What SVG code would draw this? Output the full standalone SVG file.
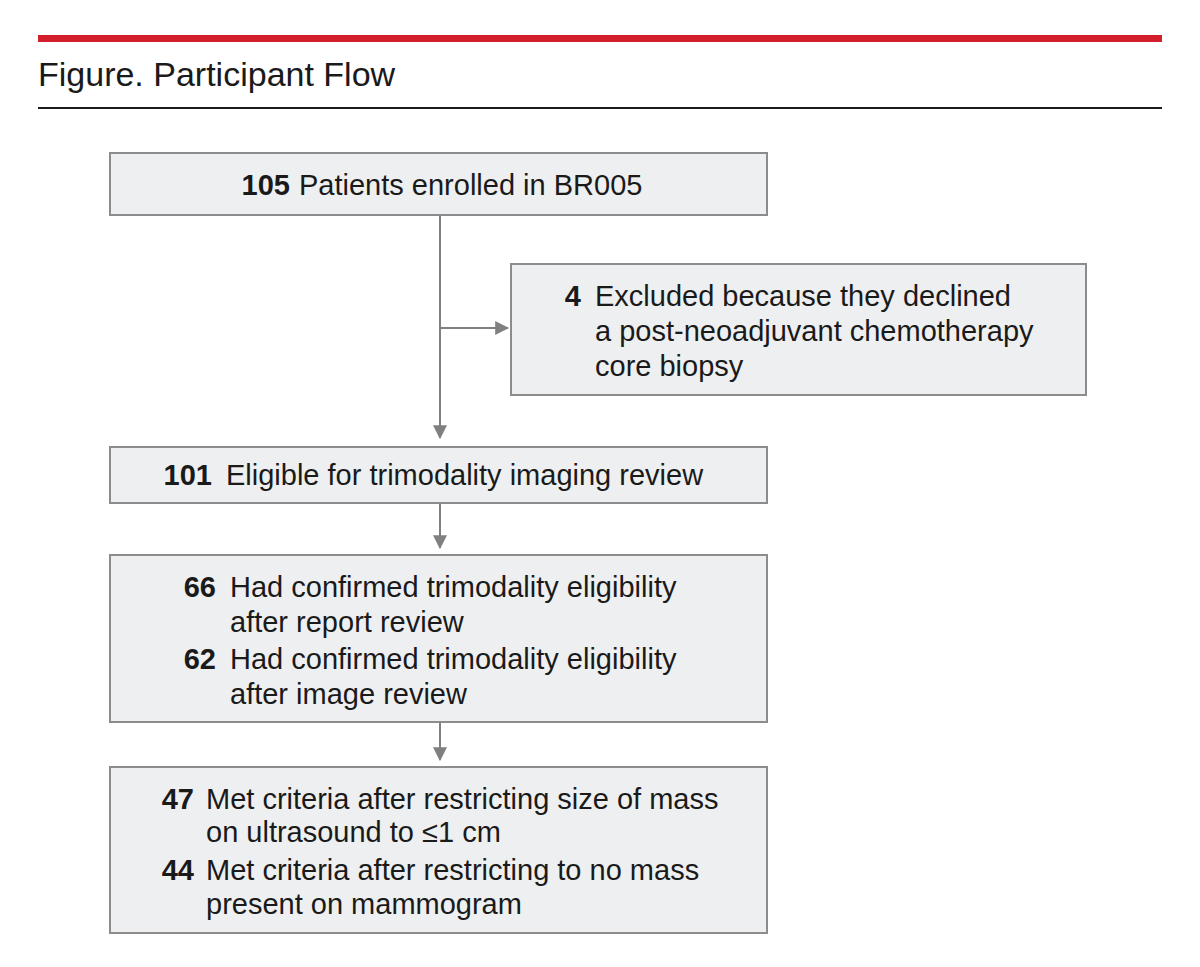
<svg xmlns="http://www.w3.org/2000/svg" width="1200" height="967" viewBox="0 0 1200 967">
<style>
.b{fill:#eeeff0;stroke:#8c8c8c;stroke-width:2}
text{font-family:"Liberation Sans",Arial,sans-serif;font-size:29px;fill:#1a1a1a}
.n{font-weight:bold;text-anchor:end}
.c{stroke:#808080;stroke-width:2;fill:none}
</style>
<defs><marker id="ah" viewBox="0 0 12 12" refX="11" refY="6" markerWidth="14" markerHeight="14" markerUnits="userSpaceOnUse" orient="auto"><path d="M0,0L12,6L0,12z" fill="#808080"/></marker></defs>
<rect x="38" y="35" width="1124" height="7" fill="#d31f2b"/>
<text x="38" y="86" style="font-size:34px">Figure. Participant Flow</text>
<rect x="38" y="107" width="1124" height="2" fill="#1a1a1a"/>
<g id="connectors">
<path class="c" d="M440,215V438" marker-end="url(#ah)"/>
<path class="c" d="M440,328H508" marker-end="url(#ah)"/>
<path class="c" d="M440,503V548" marker-end="url(#ah)"/>
<path class="c" d="M440,722V760" marker-end="url(#ah)"/>
</g>
<g id="n1"><rect class="b" x="110" y="153" width="657" height="62"/><text class="n" x="290" y="195">105</text><text x="299" y="195">Patients enrolled in BR005</text></g>
<g id="n2"><rect class="b" x="511" y="264" width="575" height="131"/><text class="n" x="581" y="306">4</text><text x="595" y="306">Excluded because they declined</text><text x="595" y="341">a post-neoadjuvant chemotherapy</text><text x="595" y="376">core biopsy</text></g>
<g id="n3"><rect class="b" x="110" y="447" width="657" height="56"/><text class="n" x="212" y="485">101</text><text x="226" y="485">Eligible for trimodality imaging review</text></g>
<g id="n4"><rect class="b" x="110" y="555" width="657" height="167"/><text class="n" x="216" y="597">66</text><text x="230" y="597">Had confirmed trimodality eligibility</text><text x="230" y="632">after report review</text><text class="n" x="216" y="669">62</text><text x="230" y="669">Had confirmed trimodality eligibility</text><text x="230" y="704">after image review</text></g>
<g id="n5"><rect class="b" x="110" y="767" width="657" height="166"/><text class="n" x="194" y="809">47</text><text x="206" y="809">Met criteria after restricting size of mass</text><text x="206" y="842">on ultrasound to ≤1 cm</text><text class="n" x="194" y="880">44</text><text x="206" y="880">Met criteria after restricting to no mass</text><text x="206" y="914">present on mammogram</text></g>
</svg>
